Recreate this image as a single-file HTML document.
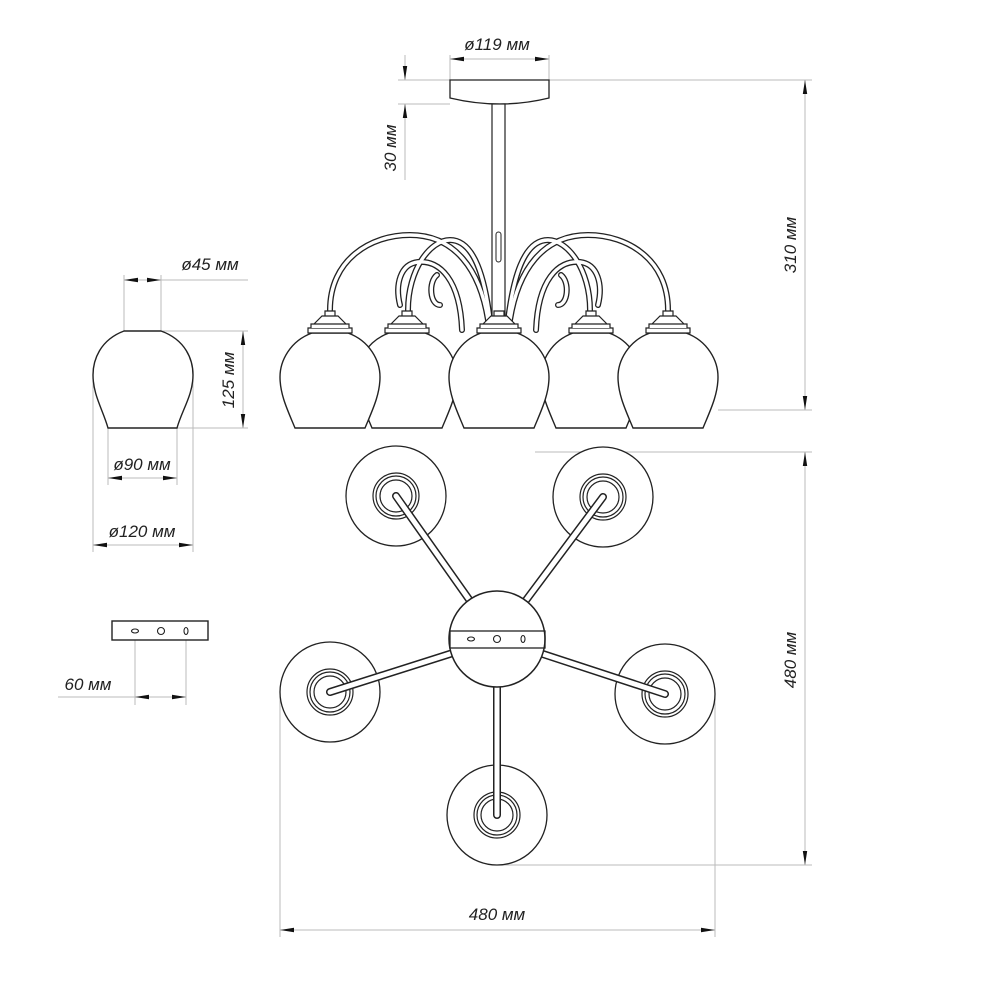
<!DOCTYPE html>
<html><head><meta charset="utf-8"><style>
html,body{margin:0;padding:0;background:#fff;}
svg{display:block;}
text{font-family:"Liberation Sans",sans-serif;font-style:italic;font-size:17px;fill:#222;}
</style></head><body>
<svg width="1000" height="1000" viewBox="0 0 1000 1000" xmlns="http://www.w3.org/2000/svg">
<defs>
<marker id="a" viewBox="0 0 14 6" refX="14" refY="3" markerWidth="14" markerHeight="6" markerUnits="userSpaceOnUse" orient="auto"><path d="M0,0.8 L14,3 L0,5.2 Z" fill="#111"/></marker>
<g id="shade">
<path d="M-18,0 C-40,8 -50,28 -50,44 C-50,62 -42,78 -35,95 L35,95 C42,78 50,62 50,44 C50,28 40,8 18,0 Z" fill="#fff" stroke="#222" stroke-width="1.4"/>
<path d="M-22,0 L-22,-5 L22,-5 L22,0 Z" fill="#fff" stroke="#222" stroke-width="1.2"/>
<path d="M-19,-5 L-19,-9 L19,-9 L19,-5 M-16,-9 L-8,-17 L8,-17 L16,-9 M-5,-17 L-5,-22 L5,-22 L5,-17" fill="#fff" stroke="#222" stroke-width="1.2"/>
</g>
<g id="ring">
<circle r="50" fill="#fff" stroke="#222" stroke-width="1.3"/>
<circle r="23" fill="none" stroke="#222" stroke-width="1.2"/>
<circle r="20" fill="none" stroke="#222" stroke-width="1.2"/>
<circle r="16" fill="none" stroke="#222" stroke-width="1.2"/>
</g>
</defs>

<!-- dimension / extension lines -->
<g stroke="#bbb" stroke-width="1" fill="none">
<line x1="450" y1="55" x2="450" y2="80"/><line x1="549" y1="55" x2="549" y2="80"/>
<line x1="398" y1="80" x2="812" y2="80"/>
<line x1="398" y1="104" x2="450" y2="104"/>
<line x1="405" y1="110" x2="405" y2="180"/>
<line x1="718" y1="410" x2="812" y2="410"/>
<line x1="535" y1="452" x2="812" y2="452"/>
<line x1="497" y1="865" x2="812" y2="865"/>
<line x1="280" y1="692" x2="280" y2="937"/>
<line x1="715" y1="694" x2="715" y2="937"/>
<line x1="124" y1="275" x2="124" y2="331"/><line x1="161" y1="275" x2="161" y2="331"/>
<line x1="161" y1="280" x2="248" y2="280"/>
<line x1="161" y1="331" x2="248" y2="331"/><line x1="177" y1="428" x2="248" y2="428"/>
<line x1="108" y1="428" x2="108" y2="485"/><line x1="177" y1="428" x2="177" y2="485"/>
<line x1="93" y1="375" x2="93" y2="552"/><line x1="193" y1="375" x2="193" y2="552"/>
<line x1="135" y1="640" x2="135" y2="705"/><line x1="186" y1="640" x2="186" y2="705"/>
<line x1="58" y1="697" x2="135" y2="697"/>
</g>
<g stroke="#bbb" stroke-width="1">
<line x1="497" y1="59" x2="450" y2="59" marker-end="url(#a)"/>
<line x1="497" y1="59" x2="549" y2="59" marker-end="url(#a)"/>
<line x1="405" y1="55" x2="405" y2="80" marker-end="url(#a)"/>
<line x1="405" y1="125" x2="405" y2="104" marker-end="url(#a)"/>
<line x1="805" y1="245" x2="805" y2="80" marker-end="url(#a)"/>
<line x1="805" y1="245" x2="805" y2="410" marker-end="url(#a)"/>
<line x1="805" y1="660" x2="805" y2="452" marker-end="url(#a)"/>
<line x1="805" y1="660" x2="805" y2="865" marker-end="url(#a)"/>
<line x1="497" y1="930" x2="280" y2="930" marker-end="url(#a)"/>
<line x1="497" y1="930" x2="715" y2="930" marker-end="url(#a)"/>
<line x1="142" y1="280" x2="124" y2="280" marker-end="url(#a)"/>
<line x1="142" y1="280" x2="161" y2="280" marker-end="url(#a)"/>
<line x1="243" y1="380" x2="243" y2="331" marker-end="url(#a)"/>
<line x1="243" y1="380" x2="243" y2="428" marker-end="url(#a)"/>
<line x1="142" y1="478" x2="108" y2="478" marker-end="url(#a)"/>
<line x1="142" y1="478" x2="177" y2="478" marker-end="url(#a)"/>
<line x1="143" y1="545" x2="93" y2="545" marker-end="url(#a)"/>
<line x1="143" y1="545" x2="193" y2="545" marker-end="url(#a)"/>
<line x1="160" y1="697" x2="135" y2="697" marker-end="url(#a)"/>
<line x1="160" y1="697" x2="186" y2="697" marker-end="url(#a)"/>
</g>

<!-- labels -->
<text x="497" y="50" text-anchor="middle">ø119 мм</text>
<text transform="translate(396,148) rotate(-90)" text-anchor="middle">30 мм</text>
<text transform="translate(796,245) rotate(-90)" text-anchor="middle">310 мм</text>
<text transform="translate(796,660) rotate(-90)" text-anchor="middle">480 мм</text>
<text x="497" y="920" text-anchor="middle">480 мм</text>
<text x="210" y="270" text-anchor="middle">ø45 мм</text>
<text transform="translate(234,380) rotate(-90)" text-anchor="middle">125 мм</text>
<text x="142" y="470" text-anchor="middle">ø90 мм</text>
<text x="142" y="537" text-anchor="middle">ø120 мм</text>
<text x="88" y="690" text-anchor="middle">60 мм</text>

<!-- canopy & stem -->
<path d="M450,80 L549,80 L549,98 Q500,110 450,98 Z" fill="#fff" stroke="#222" stroke-width="1.3"/>
<rect x="492" y="104" width="13" height="220" fill="#fff" stroke="#222" stroke-width="1.2"/>
<rect x="496" y="232" width="5" height="30" rx="2.5" fill="#fff" stroke="#222" stroke-width="1"/>

<!-- arms -->
<g fill="none" stroke-linecap="round">
<g stroke="#222" stroke-width="6">
<path d="M330,310 C330,260 370,235 410,235 C455,235 480,270 488,320"/>
<path d="M668,310 C668,260 628,235 588,235 C543,235 518,270 510,320"/>
<path d="M408,310 C408,270 430,240 450,240 C475,240 485,280 490,320"/>
<path d="M590,310 C590,270 568,240 548,240 C523,240 513,280 508,320"/>
<path d="M400,305 C395,285 400,264 418,262 C440,260 460,280 462,330"/>
<path d="M598,305 C603,285 598,264 580,262 C558,260 538,280 536,330"/>
<path d="M437,275 C428,282 430,305 440,305"/>
<path d="M561,275 C570,282 568,305 558,305"/>
</g>
<g stroke="#fff" stroke-width="3.4">
<path d="M330,310 C330,260 370,235 410,235 C455,235 480,270 488,320"/>
<path d="M668,310 C668,260 628,235 588,235 C543,235 518,270 510,320"/>
<path d="M408,310 C408,270 430,240 450,240 C475,240 485,280 490,320"/>
<path d="M590,310 C590,270 568,240 548,240 C523,240 513,280 508,320"/>
<path d="M400,305 C395,285 400,264 418,262 C440,260 460,280 462,330"/>
<path d="M598,305 C603,285 598,264 580,262 C558,260 538,280 536,330"/>
<path d="M437,275 C428,282 430,305 440,305"/>
<path d="M561,275 C570,282 568,305 558,305"/>
</g>
</g>

<!-- shades (back to front) -->
<use href="#shade" x="407" y="333"/>
<use href="#shade" x="591" y="333"/>
<use href="#shade" x="330" y="333"/>
<use href="#shade" x="668" y="333"/>
<use href="#shade" x="499" y="333"/>

<!-- single shade left -->
<path d="M124,331 C100,340 93,360 93,375 C93,395 103,410 108,428 L177,428 C182,410 193,395 193,375 C193,360 186,340 161,331 Z" fill="#fff" stroke="#222" stroke-width="1.4"/>

<!-- mounting plate -->
<rect x="112" y="621" width="96" height="19" fill="#fff" stroke="#222" stroke-width="1.4"/>
<ellipse cx="135" cy="631" rx="3.5" ry="2" fill="none" stroke="#222" stroke-width="1.1"/>
<circle cx="161" cy="631" r="3.5" fill="none" stroke="#222" stroke-width="1.1"/>
<ellipse cx="186" cy="631" rx="2" ry="3.5" fill="none" stroke="#222" stroke-width="1.1"/>

<!-- top view -->
<use href="#ring" x="396" y="496"/>
<use href="#ring" x="603" y="497"/>
<use href="#ring" x="330" y="692"/>
<use href="#ring" x="665" y="694"/>
<use href="#ring" x="497" y="815"/>
<g stroke-linecap="round" fill="none">
<g stroke="#222" stroke-width="8">
<line x1="396" y1="496" x2="497" y2="639"/>
<line x1="603" y1="497" x2="497" y2="639"/>
<line x1="330" y1="692" x2="497" y2="639"/>
<line x1="665" y1="694" x2="497" y2="639"/>
<line x1="497" y1="815" x2="497" y2="639"/>
</g>
<g stroke="#fff" stroke-width="5">
<line x1="396" y1="496" x2="497" y2="639"/>
<line x1="603" y1="497" x2="497" y2="639"/>
<line x1="330" y1="692" x2="497" y2="639"/>
<line x1="665" y1="694" x2="497" y2="639"/>
<line x1="497" y1="815" x2="497" y2="639"/>
</g>
</g>
<circle cx="497" cy="639" r="48" fill="#fff" stroke="#222" stroke-width="1.5"/>
<rect x="450" y="631" width="95" height="17" fill="none" stroke="#222" stroke-width="1.3"/>
<ellipse cx="471" cy="639" rx="3.5" ry="2" fill="none" stroke="#222" stroke-width="1.1"/>
<circle cx="497" cy="639" r="3.5" fill="none" stroke="#222" stroke-width="1.1"/>
<ellipse cx="523" cy="639" rx="2" ry="3.5" fill="none" stroke="#222" stroke-width="1.1"/>
</svg>
</body></html>
